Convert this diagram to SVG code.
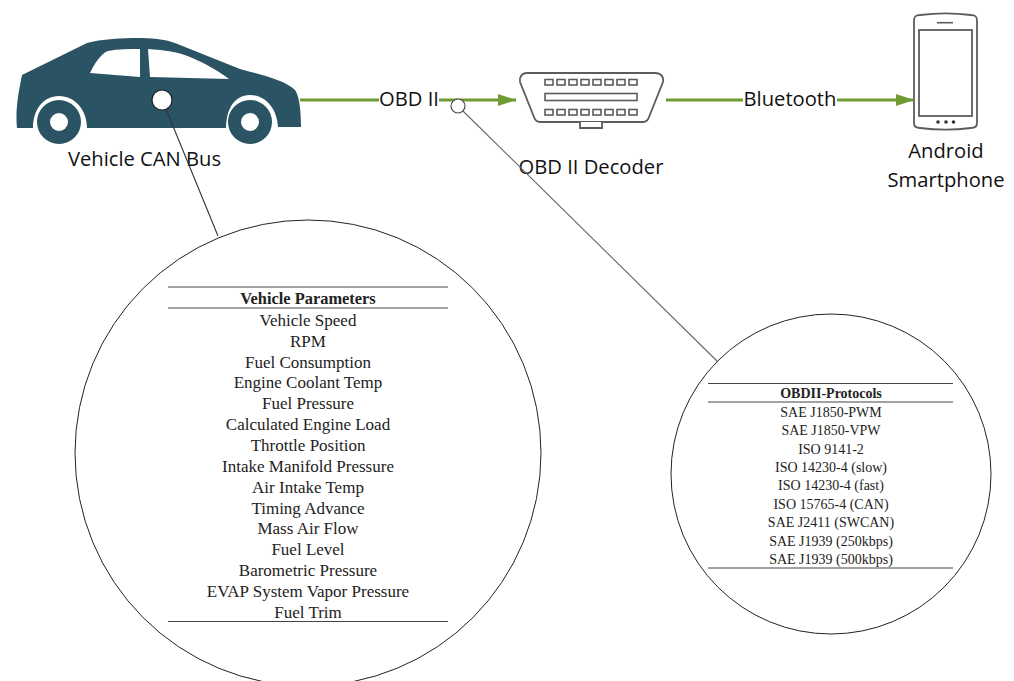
<svg xmlns="http://www.w3.org/2000/svg" width="1014" height="681" viewBox="0 0 1014 681">
<style>
.lbl{font-family:"Open Sans","Noto Sans",sans-serif;font-size:20.2px;fill:#111;text-anchor:middle}
.t{font-family:"Liberation Serif",serif;font-size:17px;fill:#222;text-anchor:middle}
.s{font-size:14px}
.b{font-weight:bold;font-size:16.4px}
.sb{font-weight:bold;font-size:14px}
.green{stroke:#6f9a34;stroke-width:3;fill:none}
.icon{fill:#fff;stroke:#5c5c5c;stroke-width:1.8}
.rule{stroke:#444;stroke-width:1}
.lead{stroke:#333;stroke-width:1.100;fill:none}
.lead2{stroke:#666;stroke-width:1.100;fill:none}
</style>
<defs>
<marker id="arr" markerUnits="userSpaceOnUse" markerWidth="20" markerHeight="16" refX="18" refY="8" orient="auto"><path d="M0 2L18 8L0 14Z" fill="#6f9a34"/></marker>
</defs>
<rect width="1014" height="681" fill="#fff"/>
<g id="car">
<path fill="#2a5364" d="M17 128C15 110 19 90 22 75L87 43C100 39 125 38 137 38C150 38 165 39 175 43L240 69C262 75 285 80 295 90C300 97 301 115 301 127L278 127C277 108 265 95 250 95C234 95 226 110 226 128L87 128C87 110 75 96 59 96C43 96 33 110 33 128Z"/>
<path fill="#fff" d="M90 73C95 62 102 53 108 51C118 49 130 49 140 49L140 77Z"/>
<path fill="#fff" d="M148 49C165 50 178 52 190 57C205 63 220 72 229 79L150 77Z"/>
<circle cx="59" cy="122" r="22" fill="#2a5364"/><circle cx="59" cy="122" r="9" fill="#fff"/>
<circle cx="250" cy="122" r="22" fill="#2a5364"/><circle cx="250" cy="122" r="9" fill="#fff"/>
<circle cx="162" cy="100" r="10" fill="#fff" stroke="#222" stroke-width="1.200"/>
<text class="lbl" x="144.500" y="166">Vehicle CAN Bus</text>
</g>
<g id="obd-label"><text class="lbl" x="409" y="106">OBD II</text></g>
<g id="decoder">
<path class="icon" d="M527 73H655C661 73 664 77 663 82L649 117C648 120 646 122 643 122H540C537 122 535 120 534 117L520 82C519 77 522 73 527 73Z"/>
<path class="icon" d="M580 122V128H602V122"/>
<g fill="#fff" stroke="#5c5c5c" stroke-width="1.600">
<rect x="545" y="79.500" width="8" height="5.500"/><rect x="557" y="79.500" width="8" height="5.500"/><rect x="569" y="79.500" width="8" height="5.500"/><rect x="581" y="79.500" width="8" height="5.500"/><rect x="593" y="79.500" width="8" height="5.500"/><rect x="605" y="79.500" width="8" height="5.500"/><rect x="617" y="79.500" width="8" height="5.500"/><rect x="629" y="79.500" width="8" height="5.500"/>
<rect x="545" y="93.500" width="92" height="7"/>
<rect x="545" y="109.500" width="8" height="5.500"/><rect x="557" y="109.500" width="8" height="5.500"/><rect x="569" y="109.500" width="8" height="5.500"/><rect x="581" y="109.500" width="8" height="5.500"/><rect x="593" y="109.500" width="8" height="5.500"/><rect x="605" y="109.500" width="8" height="5.500"/><rect x="617" y="109.500" width="8" height="5.500"/><rect x="629" y="109.500" width="8" height="5.500"/>
</g>
<text class="lbl" x="591" y="174">OBD II Decoder</text>
</g>
<g id="bt-label"><text class="lbl" x="790" y="106">Bluetooth</text></g>
<g id="phone">
<path class="icon" d="M914 21C914 16 916 15 920 15C935 13 956 13 971 15C975 15 977 16 977 21V123C977 127 975 128 971 128C956 130 935 130 920 128C916 128 914 127 914 123Z"/>
<rect class="icon" x="919" y="30" width="53" height="86"/>
<path d="M937 22.700H953" stroke="#5c5c5c" stroke-width="1.600"/>
<circle cx="938" cy="122" r="1.800" fill="#333"/><circle cx="946" cy="122" r="1.800" fill="#333"/><circle cx="953.500" cy="122" r="1.800" fill="#333"/>
<text class="lbl" x="946" y="158">Android</text>
<text class="lbl" x="946" y="187">Smartphone</text>
</g>
<g id="vehicle-parameters">
<circle cx="308" cy="453" r="233" fill="#fff" stroke="#222" stroke-width="1"/>
<path class="rule" d="M168 287H448M168 308H448M168 621.500H448"/>
<text class="t b" x="308" y="304">Vehicle Parameters</text>
<text class="t" x="308" y="326">Vehicle Speed</text>
<text class="t" x="308" y="347">RPM</text>
<text class="t" x="308" y="368">Fuel Consumption</text>
<text class="t" x="308" y="388">Engine Coolant Temp</text>
<text class="t" x="308" y="409">Fuel Pressure</text>
<text class="t" x="308" y="430">Calculated Engine Load</text>
<text class="t" x="308" y="451">Throttle Position</text>
<text class="t" x="308" y="472">Intake Manifold Pressure</text>
<text class="t" x="308" y="493">Air Intake Temp</text>
<text class="t" x="308" y="514">Timing Advance</text>
<text class="t" x="308" y="534">Mass Air Flow</text>
<text class="t" x="308" y="555">Fuel Level</text>
<text class="t" x="308" y="576">Barometric Pressure</text>
<text class="t" x="308" y="597">EVAP System Vapor Pressure</text>
<text class="t" x="308" y="618">Fuel Trim</text>
</g>
<g id="obd-protocols">
<circle cx="831" cy="474" r="160" fill="#fff" stroke="#222" stroke-width="1"/>
<path class="rule" d="M708 383.500H953M708 402H953M708 568H953"/>
<text class="t sb" x="831" y="398">OBDII-Protocols</text>
<text class="t s" x="831" y="417">SAE J1850-PWM</text>
<text class="t s" x="831" y="435">SAE J1850-VPW</text>
<text class="t s" x="831" y="454">ISO 9141-2</text>
<text class="t s" x="831" y="472">ISO 14230-4 (slow)</text>
<text class="t s" x="831" y="490">ISO 14230-4 (fast)</text>
<text class="t s" x="831" y="509">ISO 15765-4 (CAN)</text>
<text class="t s" x="831" y="527">SAE J2411 (SWCAN)</text>
<text class="t s" x="831" y="546">SAE J1939 (250kbps)</text>
<text class="t s" x="831" y="564">SAE J1939 (500kbps)</text>
</g>
<g id="connectors">
<path class="green" d="M300 100H379"/>
<path class="green" d="M439 100H516" marker-end="url(#arr)"/>
<path class="green" d="M666 100H743"/>
<path class="green" d="M837 100H914" marker-end="url(#arr)"/>
<path class="lead" d="M166 109L218 236"/>
<path class="lead2" d="M463 111L718 362"/>
</g>
<g id="tap"><circle cx="458" cy="106" r="7" fill="#fff" stroke="#444" stroke-width="1.100"/></g>
</svg>
